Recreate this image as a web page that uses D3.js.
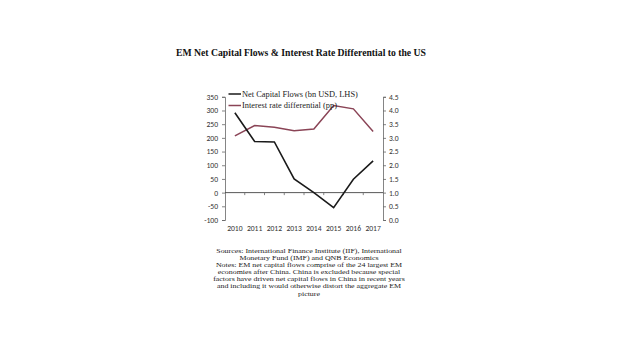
<!DOCTYPE html>
<html><head><meta charset="utf-8">
<script src="https://cdn.jsdelivr.net/npm/d3@7"></script>
<style>body{margin:0;background:#fff}svg{display:block}</style>
</head><body>
<svg id="c" width="620" height="355"></svg>
<script>
const years = ["2010","2011","2012","2013","2014","2015","2016","2017"];
const netFlows = [292, 187, 185, 50, 0, -55, 49, 116];
const rateDiff = [3.07, 3.45, 3.39, 3.26, 3.32, 4.18, 4.06, 3.23];
const leftTicks = [-100,-50,0,50,100,150,200,250,300,350];
const rightTicks = [0,0.5,1,1.5,2,2.5,3,3.5,4,4.5];
const seriesNames = ["Net Capital Flows (bn USD, LHS)", "Interest rate differential (pp)"];
const title = "EM Net Capital Flows & Interest Rate Differential to the US";
const notes = [
 "Sources: International Finance Institute (IIF), International",
 "Monetary Fund (IMF) and QNB Economics",
 "Notes: EM net capital flows comprise of the 24 largest EM",
 "economies after China. China is excluded because special",
 "factors have driven net capital flows in China in recent years",
 "and including it would otherwise distort the aggregate EM",
 "picture"
];

const svg = d3.select("#c");
const L = 225, R = 383, T = 96.8, B = 220;
const x = d3.scaleBand().domain(years).range([L, R]);
const yL = d3.scaleLinear().domain([-100, 350]).range([B, T]);
const yR = d3.scaleLinear().domain([0, 4.5]).range([B, T]);
const sans = "Carlito, 'Liberation Sans', Arial, sans-serif";
const serif = "'Liberation Serif', 'DejaVu Serif', serif";
const axCol = "#666";

svg.append("text").attr("x", 301).attr("y", 56).attr("text-anchor","middle")
  .attr("font-family", serif).attr("font-weight","bold").attr("font-size", 11)
  .attr("textLength", 250).attr("lengthAdjust","spacingAndGlyphs")
  .attr("fill","#111").text(title);

// left axis
const gl = svg.append("g").attr("transform", `translate(${L},0)`)
  .call(d3.axisLeft(yL).tickValues(leftTicks).tickSize(3).tickPadding(4).tickFormat(d => String(d)));
// right axis
const gr = svg.append("g").attr("transform", `translate(${R},0)`)
  .call(d3.axisRight(yR).tickValues(rightTicks).tickSize(3).tickPadding(3).tickFormat(d3.format(".1f")));
[gl, gr].forEach(g => {
  g.select(".domain").attr("stroke", axCol).attr("stroke-width", 0.8);
  g.selectAll(".tick line").attr("stroke", axCol).attr("stroke-width", 0.8);
  g.selectAll("text").attr("font-family", sans).attr("font-size", 7.6).attr("fill","#333");
});

// zero line with category ticks
const gx = svg.append("g").attr("transform", `translate(0,${yL(0)})`);
gx.append("line").attr("x1", L).attr("x2", R).attr("stroke", "#444").attr("stroke-width", 0.9);
gx.selectAll("line.t").data(years.slice(1)).enter().append("line").attr("class","t")
  .attr("x1", d => x(d)).attr("x2", d => x(d)).attr("y1", 0).attr("y2", 2.5)
  .attr("stroke", axCol).attr("stroke-width", 0.8);

// x labels
svg.append("g").selectAll("text").data(years).enter().append("text")
  .attr("x", d => x(d) + x.bandwidth()/2).attr("y", B + 11).attr("text-anchor","middle")
  .attr("font-family", sans).attr("font-size", 7.6).attr("fill","#333").text(d => d);

const cx = d => x(d) + x.bandwidth()/2;
svg.append("path").datum(rateDiff)
  .attr("d", d3.line().x((d,i) => cx(years[i])).y(d => yR(d)))
  .attr("fill","none").attr("stroke","#8a4456").attr("stroke-width",1.5);
svg.append("path").datum(netFlows)
  .attr("d", d3.line().x((d,i) => cx(years[i])).y(d => yL(d)))
  .attr("fill","none").attr("stroke","#1a1a1a").attr("stroke-width",1.6);

// legend
const colors = ["#1a1a1a", "#8a4456"];
const lg = svg.append("g");
seriesNames.forEach((n, i) => {
  const yy = 94 + i * 11.5;
  lg.append("line").attr("x1", 228.5).attr("x2", 241).attr("y1", yy).attr("y2", yy)
    .attr("stroke", colors[i]).attr("stroke-width", 1.5);
  lg.append("text").attr("x", 242).attr("y", yy + 2.7).attr("font-family", serif)
    .attr("font-size", 8.4).attr("fill","#222").text(n);
});

// notes (slightly widened glyphs to mimic the wider original serif)
svg.append("g").attr("transform", "translate(309,0) scale(1.2,1)")
  .selectAll("text").data(notes).enter().append("text")
  .attr("x", 0).attr("y", (d,i) => 253 + i * 7.1).attr("text-anchor","middle")
  .attr("font-family", serif).attr("font-size", 6.6).attr("fill","#222").text(d => d);
</script>
</body></html>
